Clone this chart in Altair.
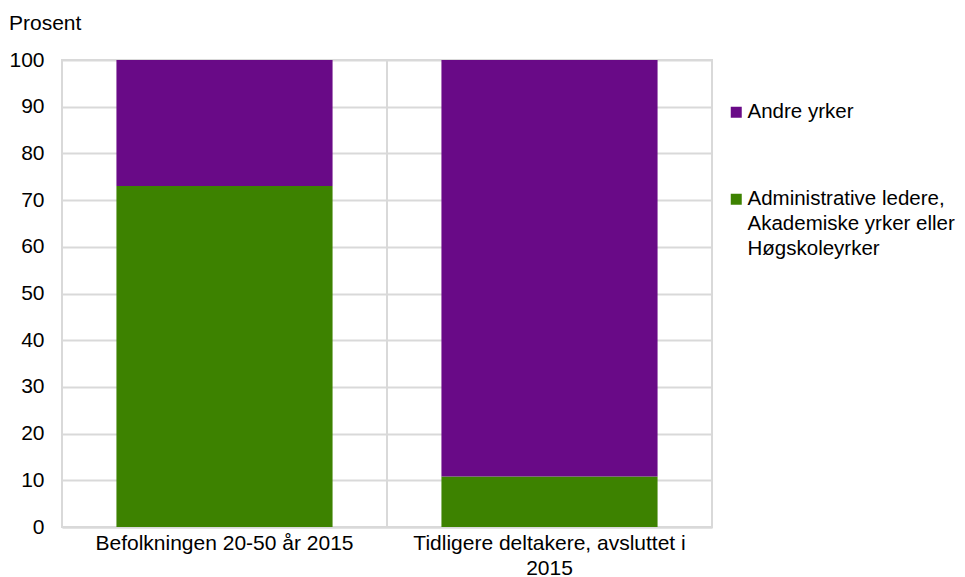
import altair as alt
import pandas as pd

categories = ["Befolkningen 20-50 år 2015", "Tidligere deltakere, avsluttet i 2015"]
series = ["Andre yrker", "Administrative ledere, Akademiske yrker eller Høgskoleyrker"]
andre = [27.0, 89.2]
admin = [73.0, 10.8]

rows = []
for i, c in enumerate(categories):
    rows.append({"kategori": c, "gruppe": series[1], "verdi": admin[i], "rekke": 1})
    rows.append({"kategori": c, "gruppe": series[0], "verdi": andre[i], "rekke": 2})
df = pd.DataFrame(rows)
df_cat = pd.DataFrame({"kategori": categories})

FONT = "Liberation Sans"
FS = 21
purple = "#690A87"
green = "#3D8200"
grid = "#D9D9D9"

label_expr_x = (
    "datum.value == 'Tidligere deltakere, avsluttet i 2015' ? "
    "['Tidligere deltakere, avsluttet i', '2015'] : datum.value"
)
label_expr_legend = (
    "datum.value == 'Administrative ledere, Akademiske yrker eller Høgskoleyrker' ? "
    "['Administrative ledere,', 'Akademiske yrker eller', 'Høgskoleyrker'] : datum.value"
)

x_axis = alt.Axis(
    title=None,
    labelAngle=0,
    labelExpr=label_expr_x,
    labelFont=FONT,
    labelFontSize=FS,
    labelColor="#000000",
    labelLineHeight=25,
    labelPadding=5,
    labelLimit=500,
    ticks=False,
    domainColor=grid,
    domainWidth=2,
    grid=False,
)

separators = (
    alt.Chart(df_cat)
    .mark_rule(color=grid, strokeWidth=2)
    .encode(
        x=alt.X("kategori:N", sort=categories, bandPosition=0, axis=x_axis,
                scale=alt.Scale(paddingInner=0, paddingOuter=0)),
        y=alt.datum(0),
        y2=alt.datum(100),
    )
)

bars = (
    alt.Chart(df)
    .mark_bar(width=alt.RelativeBandSize(0.665))
    .encode(
        x=alt.X("kategori:N", sort=categories, axis=x_axis,
                scale=alt.Scale(paddingInner=0, paddingOuter=0)),
        y=alt.Y(
            "verdi:Q",
            stack="zero",
            scale=alt.Scale(domain=[0, 100], nice=False),
            axis=alt.Axis(
                title=None,
                values=list(range(0, 101, 10)),
                labelFont=FONT,
                labelFontSize=FS,
                labelColor="#000000",
                labelPadding=18,
                ticks=False,
                domain=False,
                grid=True,
                gridColor=grid,
                gridWidth=2,
            ),
        ),
        color=alt.Color(
            "gruppe:N",
            scale=alt.Scale(domain=series, range=[purple, green]),
            legend=alt.Legend(
                title=None,
                orient="none",
                legendX=664,
                legendY=42,
                symbolType="square",
                symbolSize=121,
                symbolStrokeWidth=0,
                labelExpr=label_expr_legend,
                labelFont=FONT,
                labelFontSize=20.5,
                labelColor="#000000",
                labelOffset=1,
                labelLimit=400,
                rowPadding=66,
                padding=0,
            ),
        ),
        order=alt.Order("rekke:Q"),
    )
)

chart = (
    alt.layer(separators, bars)
    .properties(
        width=650,
        height=467,
        title=alt.TitleParams(
            "Prosent",
            anchor="start",
            frame="bounds",
            font=FONT,
            fontSize=FS,
            fontWeight="normal",
            color="#000000",
            offset=15,
        ),
        autosize=alt.AutoSizeParams(type="none"),
        padding={"left": 54, "top": 52, "right": 245, "bottom": 50},
    )
    .configure(style={"guide-label": {"lineHeight": 25}})
    .configure_view(stroke=grid, strokeWidth=2)
)

chart.save("out.html", embed_options={"renderer": "svg", "actions": False})
